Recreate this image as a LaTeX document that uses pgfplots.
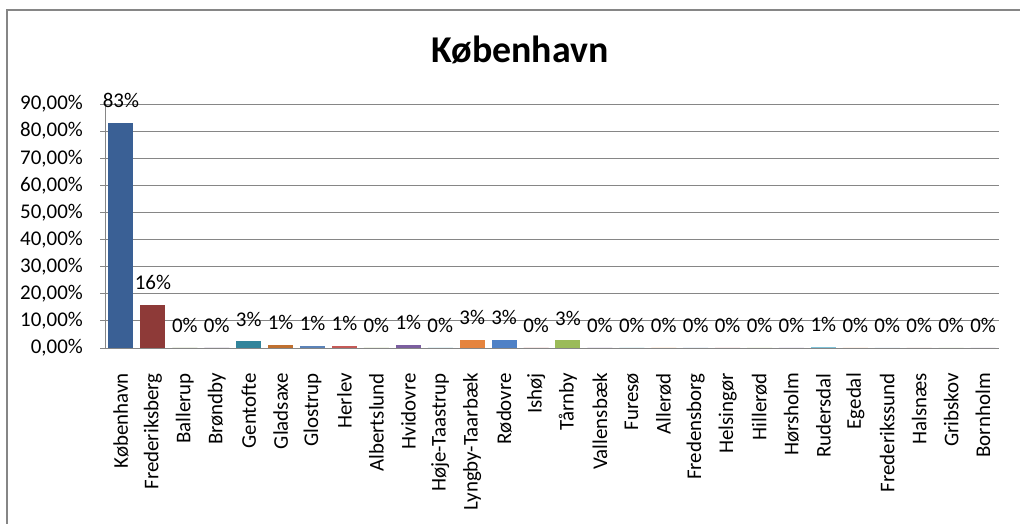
\documentclass[border=0pt]{standalone}
\usepackage{pgfplots}
\pgfplotsset{compat=1.18}
\usepackage{fontspec}
\setmainfont{Carlito}
\definecolor{c1}{HTML}{3A6095}
\definecolor{c2}{HTML}{8E3A38}
\definecolor{c3}{HTML}{71893F}
\definecolor{c4}{HTML}{5C4776}
\definecolor{c5}{HTML}{32849B}
\definecolor{c6}{HTML}{C0702F}
\definecolor{c7}{HTML}{5B83B8}
\definecolor{c8}{HTML}{C55A57}
\definecolor{c9}{HTML}{8AAA4E}
\definecolor{c10}{HTML}{7B5E9F}
\definecolor{c11}{HTML}{3FA0BA}
\definecolor{c12}{HTML}{E5843E}
\definecolor{c13}{HTML}{4F81C6}
\definecolor{c14}{HTML}{C0504D}
\definecolor{c15}{HTML}{9BBB59}
\definecolor{c16}{HTML}{8064A2}
\definecolor{c17}{HTML}{4BACC6}
\definecolor{c18}{HTML}{F79646}
\definecolor{c19}{HTML}{7BA0CD}
\definecolor{c20}{HTML}{D07D7B}
\definecolor{c21}{HTML}{B0C97D}
\definecolor{c22}{HTML}{9C87B8}
\definecolor{c23}{HTML}{7FC3D8}
\definecolor{c24}{HTML}{F9AE76}
\definecolor{c25}{HTML}{A7C0DE}
\definecolor{c26}{HTML}{DFA8A6}
\definecolor{c27}{HTML}{C7D8A6}
\definecolor{c28}{HTML}{BBADCD}
\definecolor{gridgray}{HTML}{868686}
\begin{document}
\begin{tikzpicture}[x=1bp,y=1bp]
\useasboundingbox (0,0) rectangle (1020,524);
\fill[white] (0,0) rectangle (1020,524);
\draw[gridgray,line width=1.6bp] (7,0) -- (7,514) -- (1020,514);
\node[anchor=base,font={\fontsize{38}{42}\selectfont\bfseries}] at (520,461) {København};
\begin{axis}[
  at={(105bp,176bp)}, anchor=south west,
  scale only axis, width=894bp, height=244bp,
  xmin=-0.5, xmax=27.5, ymin=0, ymax=90,
  axis x line*=bottom, axis y line*=left,
  axis line style={gridgray,line width=0.9bp,-},
  ybar, bar width=25bp, bar shift=0pt,
  ymajorgrids, major grid style={gridgray,line width=0.9bp},
  ytick={0,10,...,90},
  yticklabels={{0,00\%},{10,00\%},{20,00\%},{30,00\%},{40,00\%},{50,00\%},{60,00\%},{70,00\%},{80,00\%},{90,00\%}},
  xtick={0,...,27},
  xticklabels={København,Frederiksberg,Ballerup,Brøndby,Gentofte,Gladsaxe,Glostrup,Herlev,Albertslund,Hvidovre,Høje-Taastrup,Lyngby-Taarbæk,Rødovre,Ishøj,Tårnby,Vallensbæk,Furesø,Allerød,Fredensborg,Helsingør,Hillerød,Hørsholm,Rudersdal,Egedal,Frederikssund,Halsnæs,Gribskov,Bornholm},
  minor xtick={-0.5,0.5,...,27.5},
  tick align=outside,
  major tick length=5bp, minor tick length=6bp,
  xtick style={draw=none},
  ytick style={gridgray,line width=0.9bp},
  minor tick style={gridgray,line width=0.9bp},
  xticklabel style={rotate=90,anchor=east,inner sep=0pt,xshift=-20bp,font=\fontsize{21}{23}\selectfont},
  yticklabel style={anchor=east,inner sep=0pt,xshift=-17bp,font=\fontsize{21}{23}\selectfont},
  every tick label/.append style={text=black},
  point meta=explicit symbolic,
  nodes near coords,
  every node near coord/.append style={anchor=south,inner sep=0pt,yshift=15bp,font=\fontsize{21}{23}\selectfont,text=black},
]
\addplot[fill=c1,draw=none] coordinates {(0,83.1) [83\%]};
\addplot[fill=c2,draw=none] coordinates {(1,16.0) [16\%]};
\addplot[fill=c3,draw=none] coordinates {(2,0) [0\%]};
\addplot[fill=c4,draw=none] coordinates {(3,0) [0\%]};
\addplot[fill=c5,draw=none] coordinates {(4,2.4) [3\%]};
\addplot[fill=c6,draw=none] coordinates {(5,1.2) [1\%]};
\addplot[fill=c7,draw=none] coordinates {(6,0.6) [1\%]};
\addplot[fill=c8,draw=none] coordinates {(7,0.6) [1\%]};
\addplot[fill=c9,draw=none] coordinates {(8,0) [0\%]};
\addplot[fill=c10,draw=none] coordinates {(9,1.2) [1\%]};
\addplot[fill=c11,draw=none] coordinates {(10,0) [0\%]};
\addplot[fill=c12,draw=none] coordinates {(11,2.9) [3\%]};
\addplot[fill=c13,draw=none] coordinates {(12,2.9) [3\%]};
\addplot[fill=c14,draw=none] coordinates {(13,0) [0\%]};
\addplot[fill=c15,draw=none] coordinates {(14,2.8) [3\%]};
\addplot[fill=c16,draw=none] coordinates {(15,0) [0\%]};
\addplot[fill=c17,draw=none] coordinates {(16,0) [0\%]};
\addplot[fill=c18,draw=none] coordinates {(17,0) [0\%]};
\addplot[fill=c19,draw=none] coordinates {(18,0) [0\%]};
\addplot[fill=c20,draw=none] coordinates {(19,0) [0\%]};
\addplot[fill=c21,draw=none] coordinates {(20,0) [0\%]};
\addplot[fill=c22,draw=none] coordinates {(21,0) [0\%]};
\addplot[fill=c23,draw=none] coordinates {(22,0.5) [1\%]};
\addplot[fill=c24,draw=none] coordinates {(23,0) [0\%]};
\addplot[fill=c25,draw=none] coordinates {(24,0) [0\%]};
\addplot[fill=c26,draw=none] coordinates {(25,0) [0\%]};
\addplot[fill=c27,draw=none] coordinates {(26,0) [0\%]};
\addplot[fill=c28,draw=none] coordinates {(27,0) [0\%]};
\end{axis}
\end{tikzpicture}
\end{document}
